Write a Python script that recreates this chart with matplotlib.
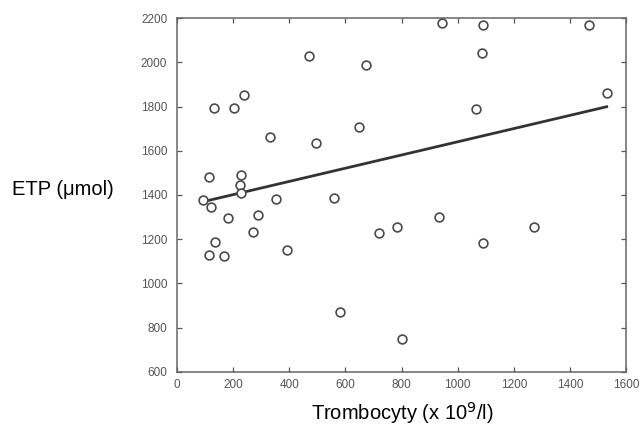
import numpy as np
import matplotlib
matplotlib.use("Agg")
import matplotlib.pyplot as plt
from matplotlib import font_manager

plt.rcParams['font.family'] = ['Liberation Sans', 'DejaVu Sans']

# platelet count (x 10^9/l) and ETP (umol)
trombocyty = [469, 672, 131, 202, 237, 330, 494, 649, 114, 227, 223,
              944, 1090, 1467, 1086, 1531, 1066,
              228, 92, 120, 181, 290, 272, 353, 135, 115, 169, 393,
              560, 582, 720, 783, 802,
              935, 1090, 1271]
etp = [2030, 1988, 1795, 1795, 1851, 1664, 1635, 1706, 1481, 1490, 1447,
       2179, 2170, 2170, 2043, 1861, 1790,
       1408, 1377, 1344, 1297, 1311, 1231, 1380, 1188, 1127, 1123, 1151,
       1386, 870, 1227, 1255, 748,
       1302, 1185, 1254]

# regression line as drawn
fit_x = [94, 1531]
fit_y = [1370, 1799]

x_ticks = [0, 200, 400, 600, 800, 1000, 1200, 1400, 1600]
y_ticks = [600, 800, 1000, 1200, 1400, 1600, 1800, 2000, 2200]

# narrow font for the tick labels if there is one
names = {f.name for f in font_manager.fontManager.ttflist}
tick_font = 'Liberation Sans Narrow' if 'Liberation Sans Narrow' in names else 'Liberation Sans'

fig = plt.figure(figsize=(6.43, 4.34), dpi=100)
ax = fig.add_axes([0.2753, 0.1429, 0.6983, 0.8156])

ax.plot(fit_x, fit_y, color='#333333', lw=2.0, zorder=2)
ax.scatter(trombocyty, etp, s=40, facecolors='white', edgecolors='#4a4a4a',
           linewidths=1.2, zorder=3)

ax.set_xlim(0, 1600)
ax.set_ylim(600, 2200)
ax.set_xticks(x_ticks)
ax.set_yticks(y_ticks)
ax.tick_params(direction='in', top=True, right=True, length=3.5,
               width=0.9, colors='#555555', labelsize=8.5)
ax.tick_params(axis='y', pad=7)
ax.tick_params(axis='x', pad=5)
for lab in ax.get_xticklabels() + ax.get_yticklabels():
    lab.set_fontfamily(tick_font)
for s in ax.spines.values():
    s.set_color('#666666')
    s.set_linewidth(1.1)

fig.text(0.098, 0.5507, 'ETP (\u03bcmol)', fontsize=14.5, ha='center', va='baseline')
fig.text(0.625, 0.032, 'Trombocyty (x 10$^{9}$/l)', fontsize=14.5,
         ha='center', va='baseline')

fig.savefig('out.png', dpi=100)
